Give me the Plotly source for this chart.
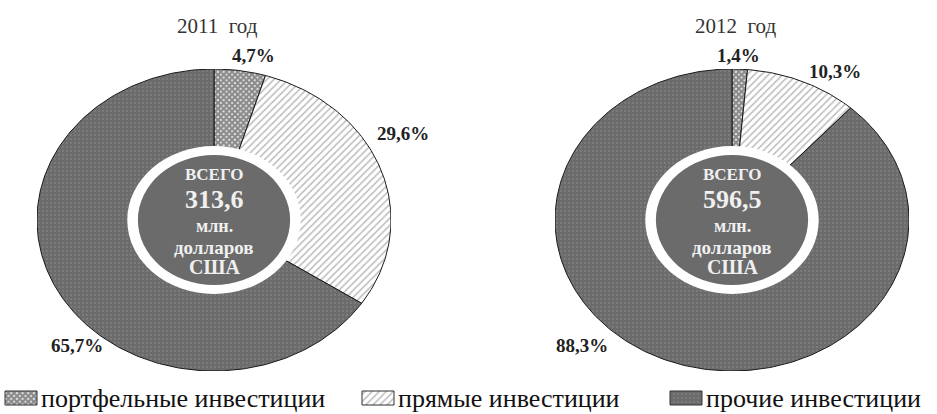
import numpy as np
import plotly.graph_objects as go

W, H = 937, 414

# ---- data ----
categories = ["портфельные инвестиции", "прямые инвестиции", "прочие инвестиции"]
years = ["2011\u00a0\u00a0год", "2012\u00a0\u00a0год"]
shares_2011 = [4.7, 29.6, 65.7]
shares_2012 = [1.4, 10.3, 88.3]
totals = ["313,6", "596,5"]
center_lines = ["ВСЕГО", "млн.", "долларов", "США"]

# ---- styles ----
patterns = [
    dict(shape="x", fgcolor="#1a1a1a", bgcolor="#ffffff", size=4, solidity=0.85),
    dict(shape="/", fgcolor="#7a7a7a", bgcolor="#ffffff", size=5, solidity=0.3),
    dict(shape=".", fgcolor="#8c8c8c", bgcolor="#6b6b6b", size=4, solidity=0.25),
]
SERIF = "Liberation Serif, DejaVu Serif, Times New Roman, serif"

# pie geometry in pixels (centre x, centre y, x-radius, y-radius)
pies = [dict(cx=214, cy=220, rx=177, ry=151), dict(cx=732, cy=220, rx=177, ry=151)]
HOLE = 0.49
INNER = 0.43

# label pixel positions [portfolio, direct, other]
label_pos = [
    [(253, 55), (403, 133), (77, 345)],
    [(738, 55), (835, 71), (582, 345)],
]
# legend swatch left edges (px) and geometry
legend_x = [5, 362, 670]
LEG_Y, LEG_BW, LEG_BH = 398, 32, 14

fig = go.Figure()

def wedge(f0, f1):
    a0 = np.pi / 2 - 2 * np.pi * f0
    a1 = np.pi / 2 - 2 * np.pi * f1
    n = max(4, int(abs(f1 - f0) * 360))
    t = np.linspace(a0, a1, n)
    xs = np.concatenate([[0], np.cos(t), [0]])
    ys = np.concatenate([[0], np.sin(t), [0]])
    return xs, ys

for pi, shares in enumerate([shares_2011, shares_2012]):
    xa = "x" if pi == 0 else "x2"
    ya = "y" if pi == 0 else "y2"
    cum = np.concatenate([[0], np.cumsum(shares)]) / sum(shares)
    for ci, cat in enumerate(categories):
        xs, ys = wedge(cum[ci], cum[ci + 1])
        fig.add_trace(go.Scatter(
            x=xs, y=ys, mode="lines", fill="toself",
            fillcolor=patterns[ci]["bgcolor"],
            fillpattern=patterns[ci],
            line=dict(color="#1a1a1a", width=1),
            name=cat, showlegend=False,
            xaxis=xa, yaxis=ya, hoverinfo="skip",
        ))

# legend swatches on a page-pixel axis
for ci, cat in enumerate(categories):
    x0 = legend_x[ci]
    fig.add_trace(go.Scatter(
        x=[x0, x0 + LEG_BW, x0 + LEG_BW, x0, x0],
        y=[LEG_Y - LEG_BH / 2, LEG_Y - LEG_BH / 2, LEG_Y + LEG_BH / 2, LEG_Y + LEG_BH / 2, LEG_Y - LEG_BH / 2],
        mode="lines", fill="toself", fillcolor=patterns[ci]["bgcolor"],
        fillpattern=patterns[ci], line=dict(color="#333333", width=1),
        showlegend=False, xaxis="x3", yaxis="y3", hoverinfo="skip",
    ))

layout_axes = {}
for pi, p in enumerate(pies):
    sx = "" if pi == 0 else "2"
    xd = [(p["cx"] - p["rx"]) / W, (p["cx"] + p["rx"]) / W]
    yd = [1 - (p["cy"] + p["ry"]) / H, 1 - (p["cy"] - p["ry"]) / H]
    layout_axes["xaxis" + sx] = dict(domain=xd, range=[-1, 1], visible=False, fixedrange=True)
    layout_axes["yaxis" + sx] = dict(domain=yd, range=[-1, 1], visible=False, fixedrange=True)
layout_axes["xaxis3"] = dict(domain=[0, 1], range=[0, W], visible=False, fixedrange=True)
layout_axes["yaxis3"] = dict(domain=[0, 1], range=[H, 0], visible=False, fixedrange=True)

shapes = []
annotations = []

def ann(text, x, y, size, color, bold=False, xanchor="center"):
    font = dict(family=SERIF, size=size, color=color)
    if bold:
        font["weight"] = "bold"
    annotations.append(dict(text=text, x=x, y=y, xref="x3", yref="y3", showarrow=False,
                            xanchor=xanchor, yanchor="middle", font=font))

for pi, p in enumerate(pies):
    sx = "" if pi == 0 else "2"
    shapes.append(dict(type="circle", xref="x" + sx, yref="y" + sx, x0=-HOLE, x1=HOLE,
                       y0=-HOLE, y1=HOLE, fillcolor="white", line=dict(width=0), layer="above"))
    shapes.append(dict(type="circle", xref="x" + sx, yref="y" + sx, x0=-INNER, x1=INNER,
                       y0=-INNER, y1=INNER, fillcolor="#6b6b6b", line=dict(width=0), layer="above"))
    ann(years[pi], p["cx"] + 3, 26, 21, "#333333")
    shares = [shares_2011, shares_2012][pi]
    for ci, v in enumerate(shares):
        lx, ly = label_pos[pi][ci]
        ann(("%.1f%%" % v).replace(".", ","), lx, ly, 19, "#222222", bold=True)
    lines = [(center_lines[0], 17, 174), (totals[pi], 26, 199), (center_lines[1], 18, 226),
             (center_lines[2], 19, 247), (center_lines[3], 20, 267)]
    for txt, fs, yy in lines:
        ann(txt, p["cx"], yy, fs, "#f0f0f0", bold=True)

for ci, cat in enumerate(categories):
    ann(cat, legend_x[ci] + LEG_BW + 2, LEG_Y, 26, "#111111", xanchor="left")

fig.update_layout(
    width=W, height=H,
    margin=dict(l=0, r=0, t=0, b=0, autoexpand=False),
    paper_bgcolor="white", plot_bgcolor="rgba(0,0,0,0)",
    shapes=shapes, annotations=annotations,
    showlegend=False,
    **layout_axes,
)

fig.write_html("out.html", config={"displayModeBar": False},
               post_script="document.body.style.margin='0px';")
